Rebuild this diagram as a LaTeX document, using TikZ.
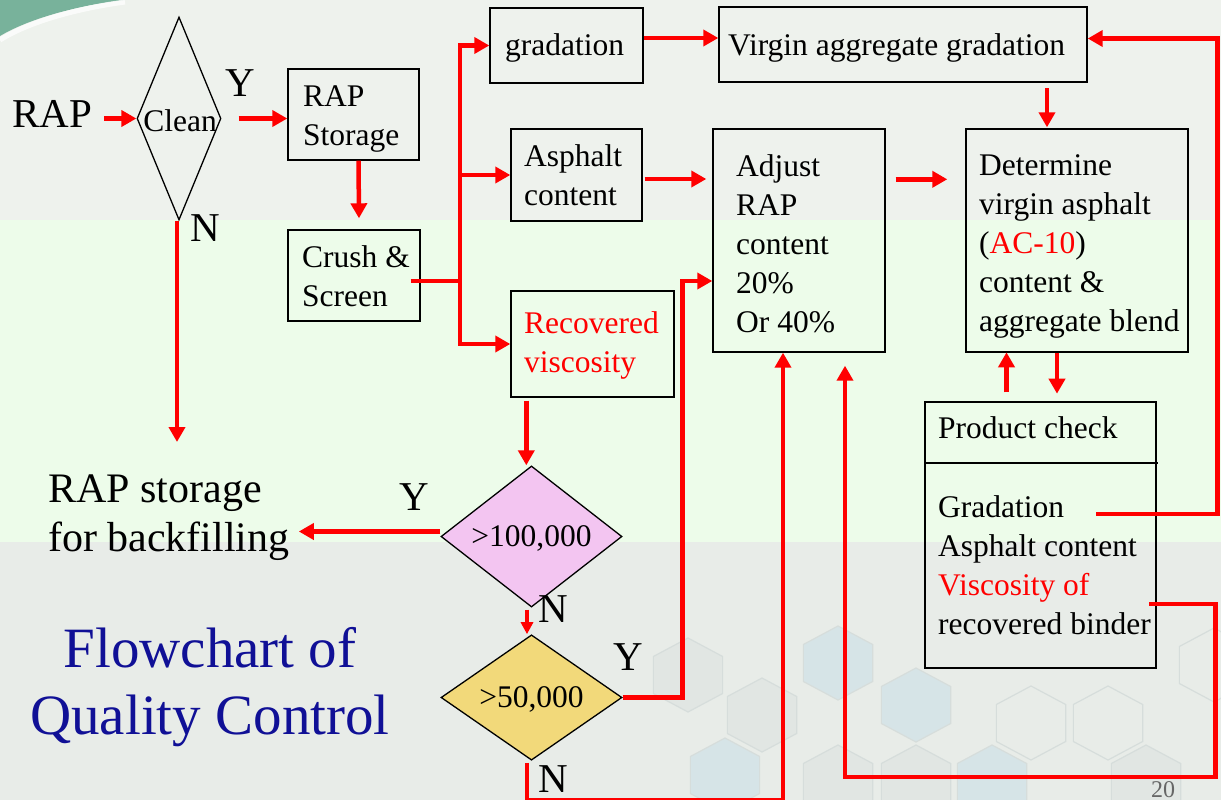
\documentclass[tikz,border=0pt]{standalone}
\usepackage{fontspec}
\setmainfont{Liberation Serif}
\usetikzlibrary{arrows.meta,calc,shapes.geometric}
\definecolor{bgtop}{RGB}{238,242,237}
\definecolor{bgmid}{RGB}{237,252,234}
\definecolor{bgbot}{RGB}{232,236,232}
\definecolor{hexline}{RGB}{214,221,219}
\definecolor{hexgray}{RGB}{225,230,227}
\definecolor{hexblue}{RGB}{214,228,231}
\definecolor{swoosh}{RGB}{120,178,155}
\definecolor{pinkf}{RGB}{243,197,241}
\definecolor{yellf}{RGB}{242,217,122}
\definecolor{titleblue}{RGB}{16,16,150}
\definecolor{arrred}{RGB}{255,0,0}
\newcommand\qcBox{\fontsize{31.5}{39}\selectfont}
\newcommand\qcLbl{\fontsize{41}{48}\selectfont}
\newcommand\qcBack{\fontsize{42}{49}\selectfont}
\newcommand\qcTitle{\fontsize{57}{67}\selectfont}
\tikzset{
  box/.style={draw=black, line width=1.4pt, inner sep=0pt},
  dia/.style={diamond, draw=black, line width=1.3pt, inner sep=0pt, font=\qcBox, text depth=0pt},
  txt/.style={inner sep=0pt, align=left, font=\qcBox, anchor=west},
  lbl/.style={inner sep=0pt, font=\qcLbl},
  rline/.style={draw=arrred, line width=4.5pt},
  arr/.style={rline, -{Triangle[length=15pt,width=16pt]}},
  arrs/.style={rline, -{Triangle[length=12pt,width=12pt]}},
  hex/.style={draw=hexline, line width=1.2pt}
}
\begin{document}
\begin{tikzpicture}[x=1pt,y=-1pt]
\useasboundingbox (0,0) rectangle (1221,800);
% background
\fill[bgtop] (0,0) rectangle (1221,220);
\fill[bgmid] (0,220) rectangle (1221,542);
\fill[bgbot] (0,542) rectangle (1221,800);
\foreach \hx/\hy/\hc in {688/675/hexgray, 762/715/hexgray, 725/775/hexblue, 838/663/hexblue,
  916/705/hexblue, 1031/723/bgbot, 1108/723/bgbot, 838/782/hexgray, 916/782/hexgray,
  992/782/hexblue, 1146/782/hexgray, 1214/665/bgbot}
  {\filldraw[hex, fill=\hc] (\hx,\hy) +(90:40 and 37) -- +(150:40 and 37) -- +(210:40 and 37)
     -- +(270:40 and 37) -- +(330:40 and 37) -- +(30:40 and 37) -- cycle;}
\fill[swoosh] (0,0) -- (125,0) .. controls (80,5) and (30,18) .. (0,36) -- cycle;
\draw[white, line width=5pt, opacity=.75] (125,2) .. controls (80,8) and (30,21) .. (0,40);

% decision nodes
\node[dia, minimum width=84pt, minimum height=203pt] (clean) at (179,118.5) {};
\node[txt, anchor=center] (cleant) at (180,121) {Clean};
\node[dia, fill=pinkf, minimum width=181pt, minimum height=117pt] (hund) at (531.5,536.5) {>100,000};
\node[dia, fill=yellf, minimum width=181pt, minimum height=117pt] (fifty) at (531.5,697.5) {>50,000};

% boxes
\node[box, minimum width=131pt, minimum height=91pt] (stor) at (353.5,114.5) {};
\node[txt] (stort) at (303,118.6) {RAP\\Storage};
\node[box, minimum width=132pt, minimum height=91pt] (crush) at (354,275.5) {};
\node[txt] (crusht) at (302,276.2) {Crush \&\\Screen};
\node[box, minimum width=153pt, minimum height=75pt] (grad) at (566.5,45.5) {};
\node[txt] (gradt) at (505,47.7) {gradation};
\node[box, minimum width=368pt, minimum height=75pt] (virgin) at (903,44.5) {};
\node[txt] (virgint) at (728,47.7) {Virgin aggregate gradation};
\node[box, minimum width=131pt, minimum height=92pt] (asph) at (576.5,175) {};
\node[txt] (aspht) at (524,175.7) {Asphalt\\content};
\node[box, minimum width=163pt, minimum height=106pt] (recv) at (592.5,344) {};
\node[txt, text=arrred] (recvt) at (524,345) {Recovered\\viscosity};
\node[box, minimum width=172pt, minimum height=223pt] (adj) at (799,240.5) {};
\node[txt] (adjt) at (736,244) {Adjust\\RAP\\content\\20\%\\Or 40\%};
\node[box, minimum width=222pt, minimum height=223pt] (det) at (1077,240.5) {};
\node[txt] (dett) at (979,246) {Determine\\virgin asphalt\\(\textcolor{arrred}{AC-10})\\content \&\\aggregate blend};
\node[box, minimum width=231pt, minimum height=266pt] (pc) at (1040.5,535) {};
\draw[black, line width=1.4pt] (925,463) -- (1158,463);
\node[txt] (pct) at (938,428) {Product check};
\node[txt] (pcb) at (938,565) {Gradation\\Asphalt content\\\color{arrred}Viscosity of\\recovered binder};

% free texts
\node[lbl] (rap) at (52,114.4) {RAP};
\node[inner sep=0pt, font=\qcBack, align=left, anchor=west] (back) at (48,517.5) {RAP storage\\for backfilling};
\node[inner sep=0pt, font=\qcTitle, text=titleblue, align=center] (title) at (210,687) {Flowchart of\\Quality Control};
\node[lbl] (y1) at (240,83.5) {Y};
\node[lbl] (n1) at (205,228.5) {N};
\node[lbl] (y2) at (414,497) {Y};
\node[lbl] (n2) at (553,609) {N};
\node[lbl] (y3) at (628,657) {Y};
\node[lbl] (n3) at (553,779) {N};
\node[inner sep=0pt, font=\fontsize{24}{26}\selectfont, text=black!60, anchor=south] (pg) at (1163,798) {20};

% connectors
\draw[arr] (clean.west) ++(-32,0) -- (clean.west);
\draw[arr] ($(clean.east)+(17,0)$) -- (clean.east -| stor.west);
\draw[arr] ($(stor.south)+(5,0)$) -- ($(crush.north)+(5,-11)$);
\coordinate (nend) at (177,442);
\draw[arr] ($(clean.south)+(-2,0)$) -- (nend);
\coordinate (trunk) at (460,281);
\draw[rline] ($(crush.east)+(-10,5.5)$) -- (trunk);
\draw[arr] (trunk) |- (grad.west);
\draw[arr] (trunk) |- (asph.west);
\draw[arr] (trunk) |- (recv.west);
\draw[arr] ($(grad.east)+(0,-7.5)$) coordinate (g1) -- (g1 -| virgin.west);
\draw[arr] ($(asph.east)+(2,4)$) coordinate (a1) -- ($(a1 -| adj.west)+(-6,0)$);
\draw[arr] ($(adj.north east)+(10,51)$) coordinate (a2) -- ($(a2 -| det.west)+(-18,0)$);
\draw[arr] ($(det.north)+(-30,-40)$) -- ($(det.north)+(-30,-1)$);
\draw[arr] ($(pc.north)+(-34,-9)$) -- ($(pc.north)+(-34,-49)$);
\draw[arr] ($(det.south)+(-20,0)$) coordinate (d1) -- ($(d1)+(0,41)$);
\draw[arr] ($(pc.west)+(172,-21)$) -- ++(121,0) |- ($(virgin.east)+(0,-6)$);
\draw[arr] ($(pc.west)+(225,69)$) -- ++(66,0) -- ++(0,173) -| ($(adj.south)+(46,13)$);
\draw[arr] (fifty.east) -- ++(60,0) |- ($(adj.west)+(0,40.5)$);
\draw[arr] ($(fifty.south)+(-4.5,2)$) -- ++(0,37) -| ($(adj.south)+(-16,0)$);
\draw[arr] ($(recv.south west)+(16,3)$) coordinate (r1) -- (r1 |- hund.north);
\draw[arr] ($(hund.west)+(0,-5)$) coordinate (h1) -- ($(h1 -| back.east)+(9,0)$);
\draw[arrs] ($(hund.south)+(-4.5,2)$) -- ($(fifty.north)+(-4.5,0)$);
\end{tikzpicture}
\end{document}
